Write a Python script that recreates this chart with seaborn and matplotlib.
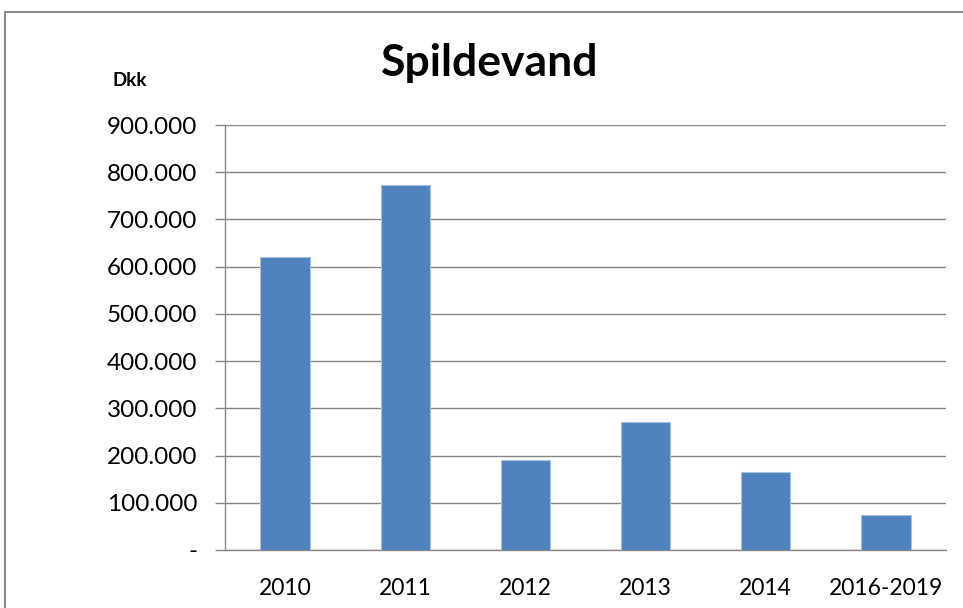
import matplotlib as mpl
import matplotlib.pyplot as plt
import matplotlib.ticker as mticker
from matplotlib.patches import Rectangle
import pandas as pd
import seaborn as sb

mpl.use('Agg')

# values (Dkk)
years = ['2010', '2011', '2012', '2013', '2014', '2016-2019']
amounts = [620000, 773000, 190000, 271000, 166000, 74000]
yticks = [0, 100000, 200000, 300000, 400000, 500000, 600000, 700000, 800000, 900000]

bar_colour = '#4F81BD'
grid_colour = '#868686'

sb.set_theme(style="white")
plt.rcParams['font.family'] = ['Lato', 'DejaVu Sans']
plt.rcParams['text.color'] = 'black'
plt.rcParams['xtick.color'] = 'black'
plt.rcParams['ytick.color'] = 'black'

df = pd.DataFrame({'year': years, 'amount': amounts})

fig = plt.figure(figsize=(9.63, 6.08), dpi=100)
ax = fig.add_axes([225 / 963, 1 - 550 / 608, 721 / 963, 425 / 608])

sb.barplot(x='year', y='amount', data=df, color=bar_colour, width=0.41,
           saturation=1, ax=ax, zorder=3)
for p in ax.patches:
    p.set_edgecolor('#A7C0DE')
    p.set_linewidth(0.8)

ax.set_xlim(-0.5, len(years) - 0.5)
ax.set_ylim(0, 900000)
ax.set_yticks(yticks)
ax.yaxis.set_major_formatter(mticker.FuncFormatter(
    lambda v, pos: '-' if v == 0 else '{:,.0f}'.format(v).replace(',', '.')))
ax.yaxis.grid(True, color=grid_colour, linewidth=1, zorder=0)
ax.set_axisbelow(True)

# category boundary ticks on the x axis
ax.set_xticks([i - 0.5 for i in range(len(years) + 1)], minor=True)
ax.tick_params(axis='x', which='minor', length=7, width=1, color=grid_colour, direction='out')
ax.tick_params(axis='x', which='major', length=0, labelsize=16.5, pad=20)
ax.tick_params(axis='y', which='major', length=7, width=1, color=grid_colour,
               direction='out', labelsize=17.5, pad=13, left=True)

ax.set_xlabel('')
ax.set_ylabel('')
for s in ['top', 'right']:
    ax.spines[s].set_visible(False)
for s in ['left', 'bottom']:
    ax.spines[s].set_color(grid_colour)
    ax.spines[s].set_linewidth(1)

fig.text(490 / 963, 1 - 63 / 608, 'Spildevand', ha='center', va='center',
         fontsize=32, fontweight='bold')
fig.text(130 / 963, 1 - 81 / 608, 'Dkk', ha='center', va='center',
         fontsize=13.5, fontweight='bold')

# outer chart frame, cut off at right and bottom
fig.patches.append(Rectangle((5 / 963, -0.1), 1.2, 1.1 - 12 / 608,
                             transform=fig.transFigure, fill=False,
                             edgecolor='#8C8C8C', linewidth=1.5))

fig.savefig('out.png', dpi=100)
